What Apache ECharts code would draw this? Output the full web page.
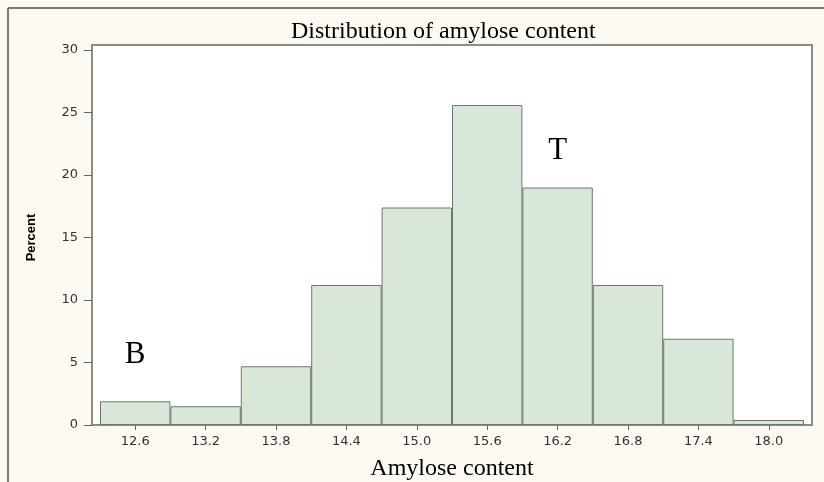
<!DOCTYPE html>
<html>
<head>
<meta charset="utf-8">
<script src="https://cdn.jsdelivr.net/npm/echarts@6/dist/echarts.min.js"></script>
<style>
  html, body { margin: 0; padding: 0; background: #fdfaf3; }
  #chart { width: 824px; height: 482px; }
</style>
</head>
<body>
<div id="chart"></div>
<script>
// histogram bins (bin centers) and percent per bin
const categories = ['12.6', '13.2', '13.8', '14.4', '15.0', '15.6', '16.2', '16.8', '17.4', '18.0']
const percent = [1.9, 1.5, 4.7, 11.2, 17.4, 25.6, 19.0, 11.2, 6.9, 0.4]
const yTicks = [0, 5, 10, 15, 20, 25, 30]
// text annotations: [category, y value, text]
const notes = [['12.6', 5.6, 'B'], ['16.2', 21.9, 'T']]

const chart = echarts.init(document.getElementById('chart'))

const serif = '"Liberation Serif", "Times New Roman", serif'
const frameColor = '#8c8c84'

const option = {
  backgroundColor: '#fdfaf3',
  animation: false,
  title: {
    text: 'Distribution of amylose content',
    left: 291,
    top: 20,
    padding: 0,
    textStyle: {
      fontFamily: serif,
      fontWeight: 'normal',
      fontSize: 24,
      color: '#000'
    }
  },
  graphic: [
    { type: 'line', shape: { x1: 8, y1: 8, x2: 824, y2: 8 }, style: { stroke: '#55503f', lineWidth: 1.5 } },
    { type: 'line', shape: { x1: 8, y1: 8, x2: 8, y2: 482 }, style: { stroke: '#55503f', lineWidth: 1.5 } }
  ],
  grid: [
    {
      // plot frame
      show: true,
      left: 92,
      right: 12,
      top: 45,
      bottom: 57,
      outerBoundsMode: 'none',
      containLabel: false,
      backgroundColor: '#fff',
      borderColor: frameColor,
      borderWidth: 2
    },
    {
      // data area
      left: 100,
      right: 20,
      top: 50,
      bottom: 57,
      outerBoundsMode: 'none',
      containLabel: false
    }
  ],
  xAxis: [
    { gridIndex: 0, type: 'value', show: false },
    {
      gridIndex: 1,
      type: 'category',
      data: categories,
      boundaryGap: true,
      name: 'Amylose content',
      nameLocation: 'middle',
      nameGap: 32,
      nameTextStyle: {
        fontFamily: serif,
        fontSize: 24,
        color: '#000'
      },
      axisLine: { show: false },
      axisTick: {
        show: true,
        alignWithLabel: true,
        length: 5,
        lineStyle: { color: '#666', width: 1 }
      },
      axisLabel: {
        margin: 10,
        fontFamily: '"DejaVu Sans", sans-serif',
        fontSize: 13,
        color: '#333'
      }
    }
  ],
  yAxis: [
    { gridIndex: 0, type: 'value', show: false },
    {
      gridIndex: 1,
      type: 'value',
      min: 0,
      max: 30,
      interval: 5,
      offset: 8,
      name: 'Percent',
      nameLocation: 'middle',
      nameRotate: 90,
      nameGap: 54,
      nameTextStyle: {
        fontFamily: '"Liberation Sans Narrow", "Liberation Sans", sans-serif',
        fontWeight: 'bold',
        fontSize: 13,
        color: '#000'
      },
      axisLine: { show: false },
      axisTick: {
        show: true,
        length: 8,
        lineStyle: { color: '#666', width: 1 }
      },
      axisLabel: {
        margin: 14,
        fontFamily: '"DejaVu Sans", sans-serif',
        fontSize: 13,
        color: '#333',
        formatter(v) {
          return yTicks.indexOf(v) >= 0 ? String(v) : ''
        }
      },
      splitLine: { show: false }
    }
  ],
  series: [{
    type: 'bar',
    xAxisIndex: 1,
    yAxisIndex: 1,
    barWidth: '100%',
    itemStyle: {
      color: '#d8e7d9',
      borderColor: '#6c7a6d',
      borderWidth: 1
    },
    data: percent,
    markPoint: {
      symbol: 'circle',
      symbolSize: 0,
      label: {
        show: true,
        position: 'inside',
        fontFamily: serif,
        fontSize: 31,
        color: '#000',
        formatter(p) {
          return p.name
        }
      },
      data: notes.map(n => ({ name: n[2], coord: [n[0], n[1]] }))
    }
  }]
}

chart.setOption(option)
</script>
</body>
</html>
